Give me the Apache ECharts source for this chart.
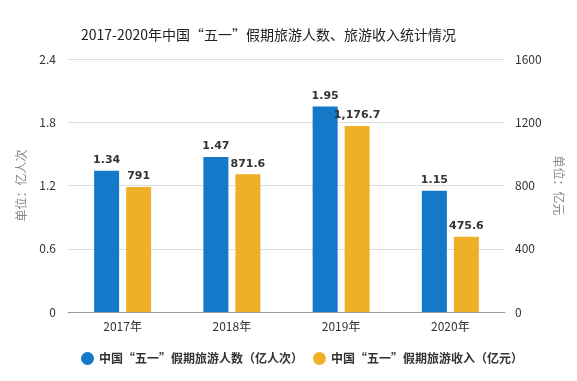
<!DOCTYPE html>
<html><head><meta charset="utf-8">
<script src="https://cdn.jsdelivr.net/npm/echarts@6/dist/echarts.min.js"></script>
<style>html,body{margin:0;padding:0;background:#fff}#c{width:577px;height:381px}</style>
</head><body><div id="c"></div>
<script>
const title = '2017-2020年中国“五一”假期旅游人数、旅游收入统计情况';
const categories = ['2017年','2018年','2019年','2020年'];
const seriesNames = ['中国“五一”假期旅游人数（亿人次）','中国“五一”假期旅游收入（亿元）'];
const visitors = [1.34, 1.47, 1.95, 1.15];
const revenue = [791, 871.6, 1176.7, 475.6];
const leftTicks = [0, 0.6, 1.2, 1.8, 2.4];
const rightTicks = [0, 400, 800, 1200, 1600];

const FONT = '"Noto Sans CJK SC", "Noto Sans", sans-serif';
const chart = echarts.init(document.getElementById('c'), null, {renderer:'canvas'});
const fmt = v => Number(v).toLocaleString('en-US', {maximumFractionDigits: 2});
const labelStyle = {
  show: true, position: 'top', distance: 5,
  fontFamily: '"DejaVu Sans", sans-serif', fontWeight: 'bold', fontSize: 11, color: '#333',
  formatter: p => fmt(p.value)
};
chart.setOption({
  animation: false,
  title: { text: title, left: 76, top: 23,
    textStyle: { fontFamily: FONT, fontSize: 14, fontWeight: 'normal', color: '#222' } },
  legend: {
    bottom: 11, left: 76, icon: 'circle', itemWidth: 13, itemHeight: 13, itemGap: 10,
    textStyle: { fontFamily: FONT, fontSize: 12, fontWeight: 'bold', color: '#333' },
    data: seriesNames
  },
  grid: { left: 68, right: 72, top: 59, bottom: 69 },
  xAxis: {
    type: 'category', data: categories,
    axisLine: { lineStyle: { color: '#999' } },
    axisTick: { alignWithLabel: true, lineStyle: { color: '#999' } },
    axisLabel: { fontFamily: FONT, fontSize: 12, color: '#333', margin: 8 }
  },
  yAxis: [
    { type: 'value', min: leftTicks[0], max: leftTicks[leftTicks.length-1], interval: 0.6,
      name: '单位：亿人次', nameLocation: 'middle', nameGap: 41, nameRotate: 90,
      nameTextStyle: { fontFamily: FONT, fontSize: 12, color: '#888' },
      axisLine: { show: false }, axisTick: { show: false },
      axisLabel: { fontFamily: FONT, fontSize: 12, color: '#333', margin: 12,
        formatter: v => String(v) },
      splitLine: { lineStyle: { color: '#ddd' } } },
    { type: 'value', min: rightTicks[0], max: rightTicks[rightTicks.length-1], interval: 400,
      name: '单位：亿元', nameLocation: 'middle', nameGap: 48, nameRotate: -90,
      nameTextStyle: { fontFamily: FONT, fontSize: 12, color: '#888' },
      axisLine: { show: false }, axisTick: { show: false },
      axisLabel: { fontFamily: FONT, fontSize: 12, color: '#333', margin: 10,
        formatter: v => String(v) },
      splitLine: { show: false } }
  ],
  series: [
    { name: seriesNames[0], type: 'bar', data: visitors, yAxisIndex: 0,
      barWidth: 25, barGap: '28%', itemStyle: { color: '#1479c9' }, label: labelStyle },
    { name: seriesNames[1], type: 'bar', data: revenue, yAxisIndex: 1,
      barWidth: 25, itemStyle: { color: '#efb028' }, label: labelStyle }
  ]
});
</script></body></html>
